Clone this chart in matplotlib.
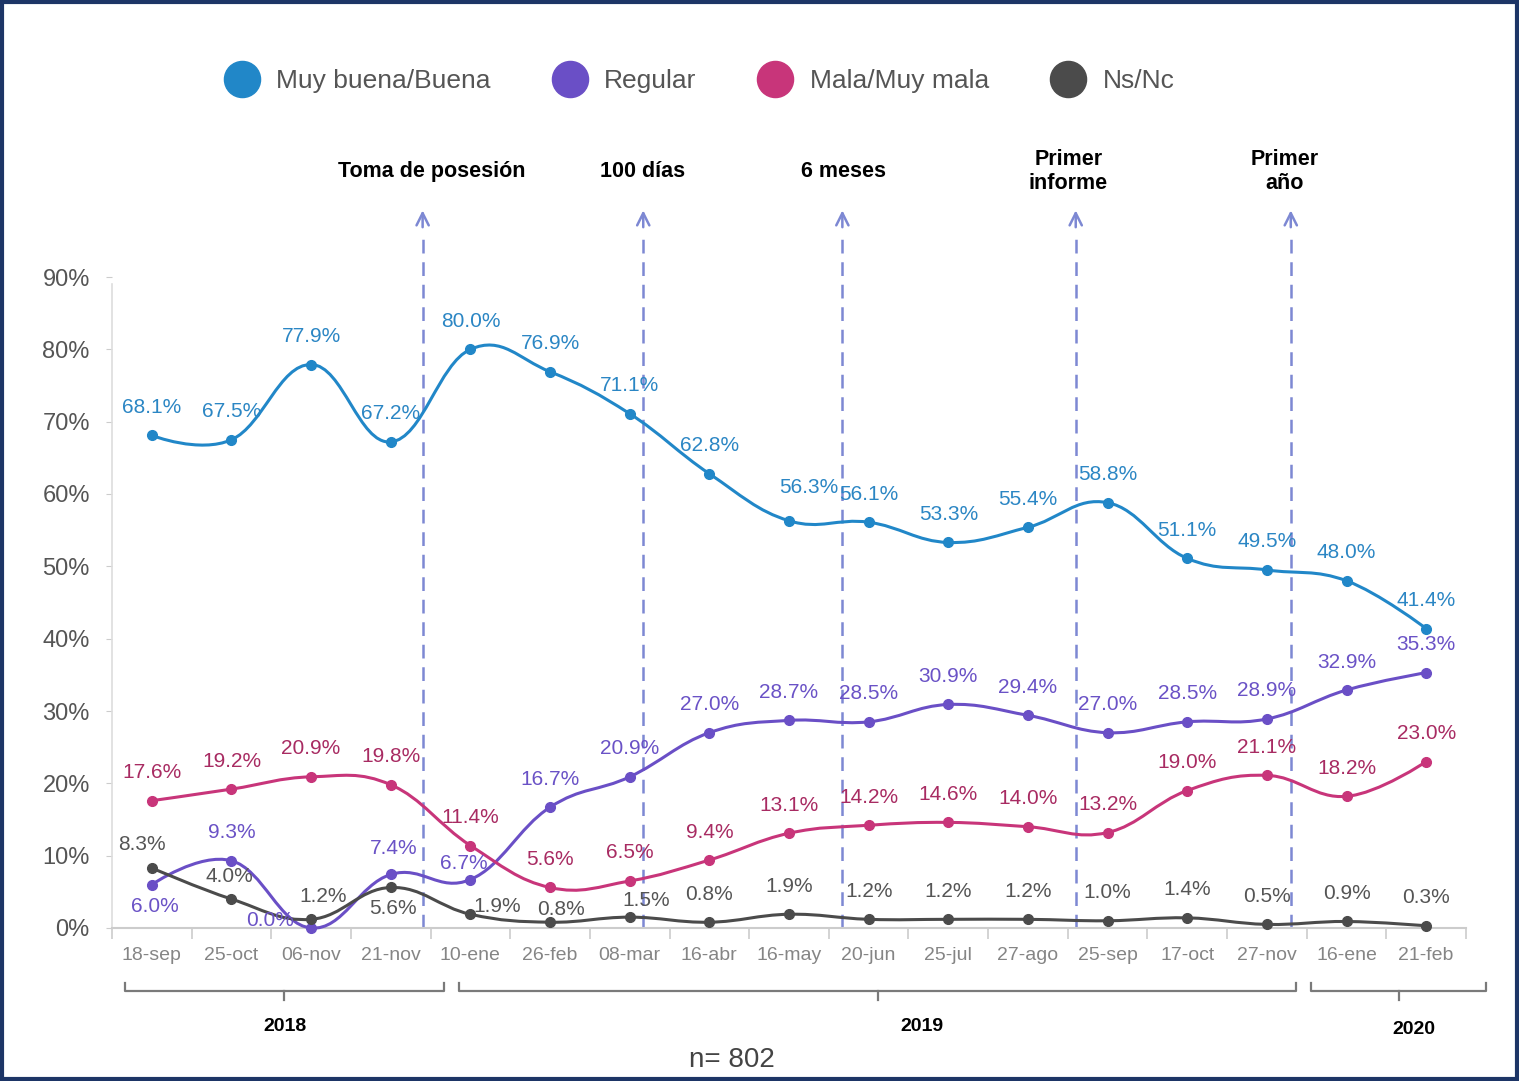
import matplotlib.pyplot as plt
from matplotlib.path import Path
from matplotlib.patches import PathPatch, Rectangle
from matplotlib.lines import Line2D

# Datos (porcentaje de opinión por fecha)
fechas = ['18-sep', '25-oct', '06-nov', '21-nov', '10-ene', '26-feb', '08-mar', '16-abr', '16-may',
          '20-jun', '25-jul', '27-ago', '25-sep', '17-oct', '27-nov', '16-ene', '21-feb']
muy_buena = [68.1, 67.5, 77.9, 67.2, 80.0, 76.9, 71.1, 62.8, 56.3, 56.1, 53.3, 55.4, 58.8, 51.1, 49.5, 48.0, 41.4]
regular = [6.0, 9.3, 0.0, 7.4, 6.7, 16.7, 20.9, 27.0, 28.7, 28.5, 30.9, 29.4, 27.0, 28.5, 28.9, 32.9, 35.3]
mala = [17.6, 19.2, 20.9, 19.8, 11.4, 5.6, 6.5, 9.4, 13.1, 14.2, 14.6, 14.0, 13.2, 19.0, 21.1, 18.2, 23.0]
nsnc = [8.3, 4.0, 1.2, 5.6, 1.9, 0.8, 1.5, 0.8, 1.9, 1.2, 1.2, 1.2, 1.0, 1.4, 0.5, 0.9, 0.3]
nombres = ['Muy buena/Buena', 'Regular', 'Mala/Muy mala', 'Ns/Nc']
eventos = ['Toma de posesión', '100 días', '6 meses', 'Primer\ninforme', 'Primer\naño']
anios = ['2018', '2019', '2020']
muestra = 'n= 802'

# Estilo
colores = ['#2187c8', '#6a4fc6', '#c8357a', '#4b4b4b']
colores_txt = ['#2b86c4', '#6a52c6', '#a82b62', '#555555']
flecha_x = [3.40, 6.17, 8.67, 11.60, 14.30]
evento_x = [3.51, 6.16, 8.68, 11.51, 14.22]
llave = [(-0.34, 3.67), (3.86, 14.37), (14.56, 16.75)]
anio_x = [1.67, 9.67, 15.84]
anio_y = [-13.6, -13.6, -14.1]
# desplazamiento de las etiquetas (pixeles) cuando no van arriba del punto
desp = {
    (0, 8): (20, 33),
    (1, 0): (3, -22), (1, 2): (-41, 7), (1, 3): (3, 26), (1, 4): (-7, 16),
    (3, 0): (-10, 23), (3, 1): (-2, 23), (3, 2): (12, 23), (3, 3): (2, -21),
    (3, 4): (27, 8), (3, 5): (11, 13), (3, 6): (16, 17),
}

plt.rcParams['font.family'] = ['Liberation Sans', 'DejaVu Sans']


def curva(xs, ys, s=1.5):
    """Spline estilo Highcharts"""
    n = len(xs)
    izq = [(xs[i], ys[i]) for i in range(n)]
    der = [(xs[i], ys[i]) for i in range(n)]
    for i in range(1, n - 1):
        lx = (s * xs[i] + xs[i - 1]) / (s + 1)
        ly = (s * ys[i] + ys[i - 1]) / (s + 1)
        rx = (s * xs[i] + xs[i + 1]) / (s + 1)
        ry = (s * ys[i] + ys[i + 1]) / (s + 1)
        c = (ry - ly) * (rx - xs[i]) / (rx - lx) + ys[i] - ry
        izq[i] = (lx, ly + c)
        der[i] = (rx, ry + c)
    verts = [(xs[0], ys[0])]
    codes = [Path.MOVETO]
    for i in range(1, n):
        verts += [der[i - 1], izq[i], (xs[i], ys[i])]
        codes += [Path.CURVE4] * 3
    return Path(verts, codes)


fig = plt.figure(figsize=(15.19, 10.81), dpi=100)
ax = fig.add_axes([112 / 1519, 1 - 928 / 1081, 1354 / 1519, 651 / 1081])
ax.set_xlim(-0.5, 16.5)
ax.set_ylim(0, 90)

x = list(range(len(fechas)))
series = [muy_buena, regular, mala, nsnc]
for k in [0, 2, 1, 3]:
    vals = series[k]
    ax.add_patch(PathPatch(curva(x, vals), fill=False, ec=colores[k], lw=2.2, zorder=3 + k * 0.1, clip_on=False))
    ax.plot(x, vals, 'o', ms=7, color=colores[k], zorder=4, clip_on=False)
    for i, v in enumerate(vals):
        dx, dy = desp.get((k, i), (0, 28))
        ax.annotate(f'{v:.1f}%', (i, v), xytext=(dx, dy), textcoords='offset pixels',
                    ha='center', va='center', fontsize=15, color=colores_txt[k], zorder=5)

# flechas de eventos
for fx, ex, txt in zip(flecha_x, evento_x, eventos):
    ax.plot([fx, fx], [0, 96], ls=(0, (5.5, 3.5)), color='#7d88d3', lw=1.8, clip_on=False, zorder=2)
    ax.annotate('', xy=(fx, 99.6), xytext=(fx, 96.5), annotation_clip=False,
                arrowprops=dict(arrowstyle='->', color='#7d88d3', lw=1.8, mutation_scale=22))
    ax.text(ex, 104.6, txt, ha='center', va='center', fontsize=15.5, fontweight='bold',
            color='black', linespacing=1.15)

# ejes
for s in ['top', 'right']:
    ax.spines[s].set_visible(False)
ax.spines['left'].set_color('#dddddd')
ax.spines['left'].set_bounds(0, 89)
ax.spines['bottom'].set_color('#cccccc')
ax.spines['left'].set_linewidth(1.2)
ax.spines['bottom'].set_linewidth(1.5)
ax.set_yticks(range(0, 91, 10))
ax.set_yticklabels([f'{t}%' for t in range(0, 91, 10)])
ax.tick_params(axis='y', length=4, color='#cccccc', labelsize=17, labelcolor='#555555', pad=12)
ax.set_xticks(x)
ax.set_xticklabels(fechas)
ax.set_xticks([i - 0.5 for i in range(len(fechas) + 1)], minor=True)
ax.tick_params(axis='x', which='major', length=0, labelsize=14, labelcolor='#858585', pad=14)
ax.tick_params(axis='x', which='minor', length=8, color='#cccccc', width=1.2)

# llaves de años
for (a, b), tx, ty, anio in zip(llave, anio_x, anio_y, anios):
    m = (a + b) / 2
    ax.plot([a, a, b, b], [-7.6, -8.7, -8.7, -7.6], color='#7a7a7a', lw=1.6, clip_on=False)
    ax.plot([m, m], [-8.7, -9.9], color='#7a7a7a', lw=1.6, clip_on=False)
    ax.text(tx, ty, anio, ha='center', va='center', fontsize=14, fontweight='bold', color='black')

fig.text(732 / 1519, 1 - 1060 / 1081, muestra, ha='center', va='center', fontsize=20, color='#444444')

# leyenda
handles = [Line2D([], [], marker='o', ls='', ms=26, color=c) for c in colores]
fig.legend(handles, nombres, loc='center', bbox_to_anchor=(700 / 1519, 1 - 81 / 1081), ncol=4,
           frameon=False, fontsize=19, labelcolor='#555555', handlelength=1.2,
           handletextpad=0.7, columnspacing=2.4)

# marco
fig.add_artist(Rectangle((0.0015, 0.002), 0.997, 0.996, transform=fig.transFigure,
                         fill=False, lw=3, ec='#1d3566'))

plt.savefig('out.png', dpi=100)
